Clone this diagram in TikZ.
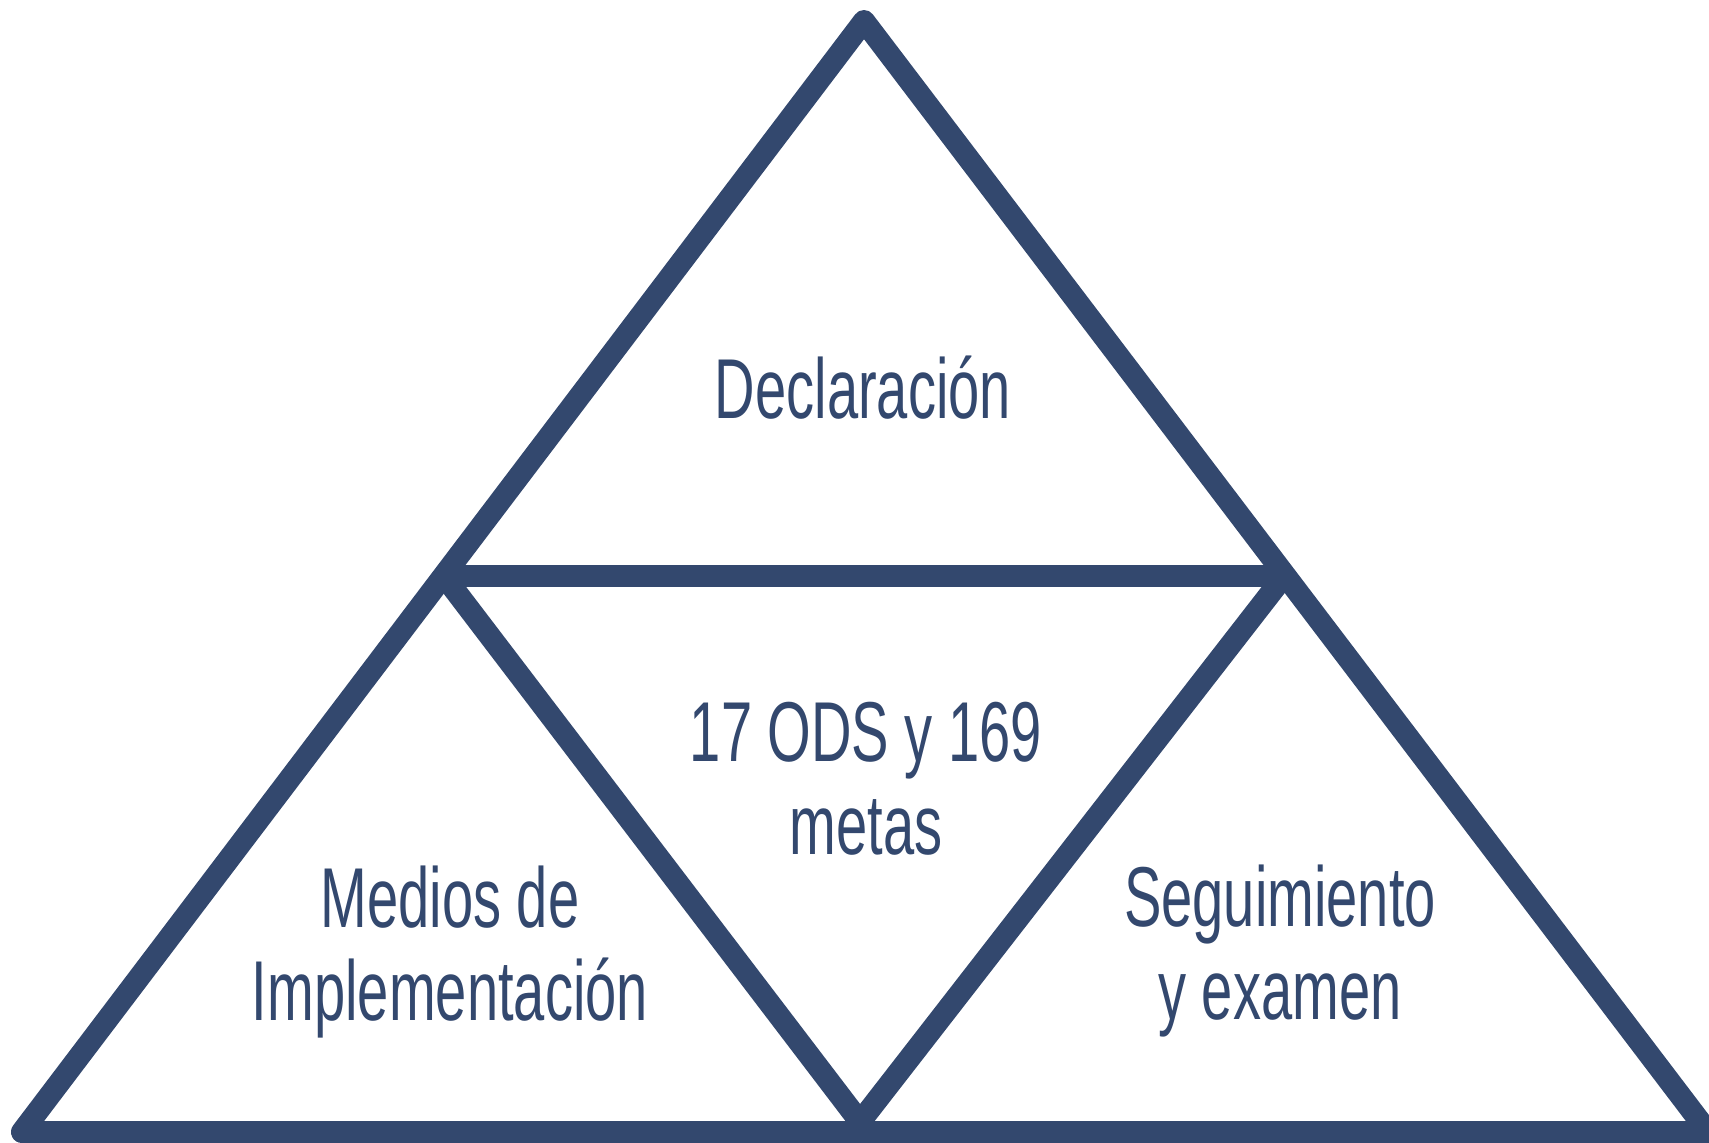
\documentclass[tikz,border=0pt]{standalone}
\usepackage{fontspec}
\newfontfamily\narrowfont[FakeStretch=0.66]{Liberation Sans}
\definecolor{navy}{HTML}{33486E}
\begin{document}
\begin{tikzpicture}[x=1pt,y=-1pt,
  edge/.style={draw=navy,line width=22pt,line join=round,line cap=round},
  lbl/.style={inner sep=0pt,anchor=base,text=navy,font=\narrowfont\fontsize{85}{93}\selectfont}]
\useasboundingbox (0,0) rectangle (1709,1143);
\coordinate (A) at (864,21);
\coordinate (BL) at (22,1132);
\coordinate (BR) at (1708,1132);
\coordinate (ML) at (444,576);
\coordinate (MR) at (1284,576);
\coordinate (BC) at (860,1122);
\draw[edge] (A) -- (BL) -- (BR) -- cycle;
\draw[edge] (ML) -- (MR);
\draw[edge] (ML) -- (BC) -- (MR);
\node[lbl] (decl) at (863,418) {Declaración};
\node[lbl] (ods) at (866,761) {\begin{tabular}[t]{@{}c@{}}17 ODS y 169\\metas\end{tabular}};
\node[lbl] (medios) at (450,927) {\begin{tabular}[t]{@{}c@{}}Medios de\\Implementación\end{tabular}};
\node[lbl] (seg) at (1280,926) {\begin{tabular}[t]{@{}c@{}}Seguimiento\\y examen\end{tabular}};
\end{tikzpicture}
\end{document}
